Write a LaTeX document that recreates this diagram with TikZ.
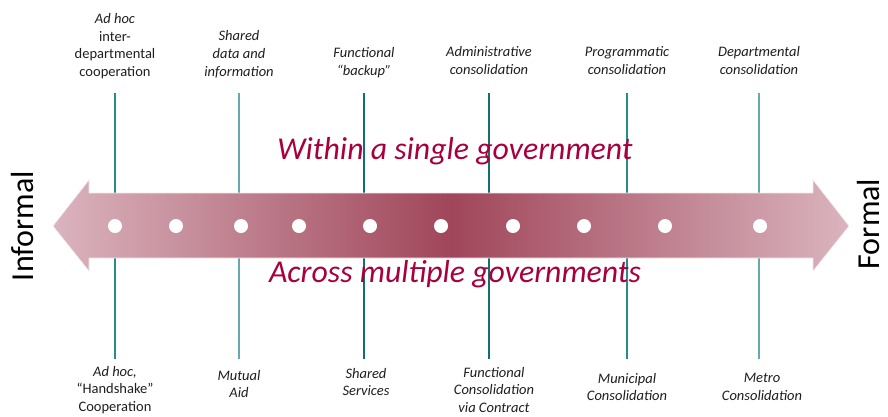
\documentclass[tikz,border=0pt]{standalone}
\usepackage{fontspec}
\setmainfont{Carlito}
\definecolor{arrowlight}{RGB}{218,180,190}
\definecolor{arrowdark}{RGB}{160,70,90}
\definecolor{headred}{RGB}{168,0,60}
\definecolor{tealA}{RGB}{40,140,140}
\definecolor{tealB}{RGB}{100,170,170}
\definecolor{tealC}{RGB}{20,110,112}
\definecolor{labelgray}{RGB}{30,30,30}
\tikzset{
  lbl/.style={align=center, font=\fontsize{14.5}{17.7}\selectfont, text=labelgray, inner sep=0pt},
  head/.style={font=\fontsize{31.8}{38}\selectfont\itshape, text=headred, inner sep=0pt, anchor=base},
  side/.style={font=\fontsize{32}{38}\selectfont, text=black, rotate=90, anchor=base, inner sep=0pt},
  tick/.style={line width=1.2pt},
  dot/.style={circle, fill=white, minimum size=14pt, inner sep=0pt}
}
\begin{document}
\begin{tikzpicture}[x=1pt,y=-1pt]
\useasboundingbox (0,0) rectangle (888,416);
% vertical lines
\foreach \n/\x/\c in {1/115/tealA,2/239/tealB,3/364/tealC,4/489/tealC,5/627/tealA,6/759/tealB}{
  \coordinate (t\n) at (\x,93);
  \coordinate (u\n) at (\x,200);
  \coordinate (v\n) at (\x,252);
  \coordinate (b\n) at (\x,359);
  \draw[tick,draw=\c] (t\n) -- (u\n);
  \draw[tick,draw=\c] (v\n) -- (b\n);
}
% arrow
\shade[left color=arrowlight, right color=arrowlight, middle color=arrowdark]
  (53,226) -- (89,180) -- (89,193) -- (813,193) -- (813,180) -- (849,226)
  -- (813,271) -- (813,258) -- (89,258) -- (89,271) -- cycle;
\draw[white!70!arrowlight, line width=0.6pt]
  (53,226) -- (89,180) -- (89,193) -- (813,193) -- (813,180) -- (849,226)
  -- (813,271) -- (813,258) -- (89,258) -- (89,271) -- cycle;
% dots
\foreach \i/\x in {1/115,2/176,3/241,4/299,5/370,6/441,7/513,8/584,9/665,10/760}{
  \node[dot] (d\i) at (\x,226) {};
}
% headings
\node[head] (within) at (455,159) {Within a single government};
\node[head] (across) at (455,282) {Across multiple governments};
% side labels
\node[side] (informal) at (33,226) {Informal};
\node[side] (formal) at (879,224) {Formal};
% top labels
\node[lbl, anchor=south] (l1) at (115,79) {\textit{Ad hoc}\\inter-\\departmental\\cooperation};
\node[lbl, anchor=south] (l2) at (239,78) {\textit{Shared}\\\textit{data and}\\\textit{information}};
\node[lbl, anchor=south] (l3) at (364,78) {\textit{Functional}\\\textit{“backup”}};
\node[lbl, anchor=south] (l4) at (489,75) {\textit{Administrative}\\\textit{consolidation}};
\node[lbl, anchor=south] (l5) at (627,75) {\textit{Programmatic}\\\textit{consolidation}};
\node[lbl, anchor=south] (l6) at (759,75) {\textit{Departmental}\\\textit{consolidation}};
% bottom labels
\node[lbl, anchor=north] (m1) at (115,366) {\textit{Ad hoc,}\\“Handshake”\\Cooperation};
\node[lbl, anchor=north] (m2) at (239,370) {\textit{Mutual}\\\textit{Aid}};
\node[lbl, anchor=north] (m3) at (366,368) {\textit{Shared}\\\textit{Services}};
\node[lbl, anchor=north] (m4) at (494,367) {\textit{Functional}\\\textit{Consolidation}\\\textit{via Contract}};
\node[lbl, anchor=north] (m5) at (627,373) {\textit{Municipal}\\\textit{Consolidation}};
\node[lbl, anchor=north] (m6) at (762,373) {\textit{Metro}\\\textit{Consolidation}};
\end{tikzpicture}
\end{document}
